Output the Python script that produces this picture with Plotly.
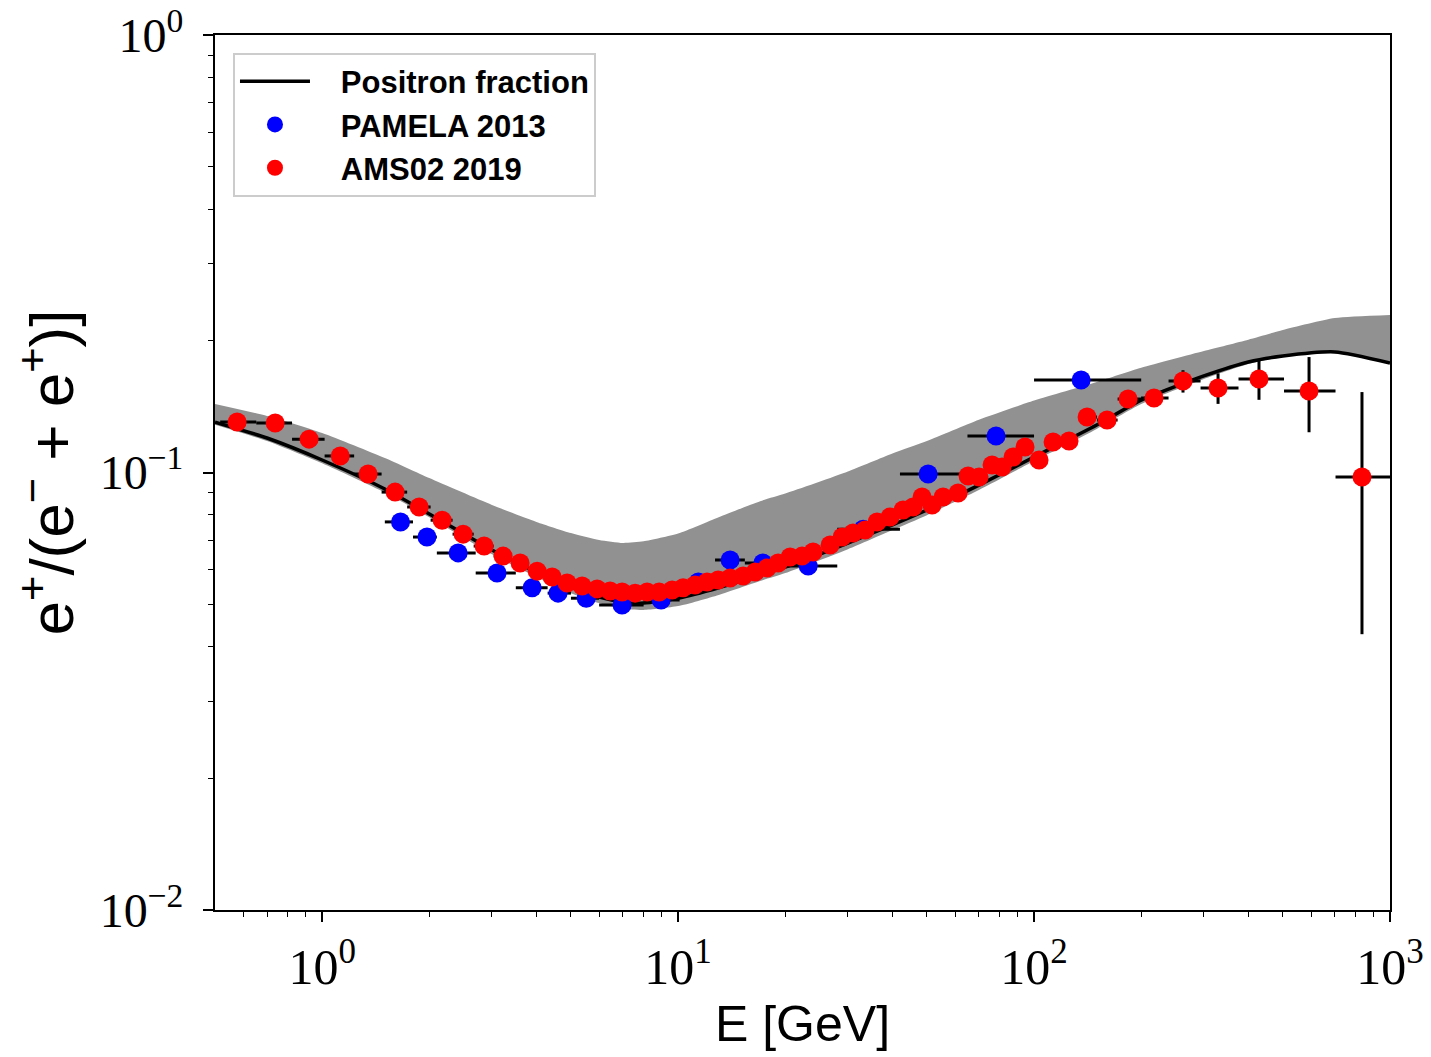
import plotly.graph_objects as go

# ---------------- model curve and band ----------------
model_E = [0.5, 0.7, 1, 1.5, 2, 3, 4, 5, 6, 7, 8, 10, 13, 17, 20, 30, 40, 50, 70,
           100, 150, 200, 300, 400, 500, 700, 1000]
model_frac = [0.1304, 0.1199, 0.1068, 0.0917, 0.0804, 0.0665, 0.0592, 0.0547, 0.0519,
              0.0506, 0.0503, 0.0516, 0.0545, 0.0583, 0.0608, 0.0690, 0.0759, 0.0821,
              0.0936, 0.1085, 0.1284, 0.1464, 0.1662, 0.1789, 0.1846, 0.1886, 0.1780]
band_low = [0.1285, 0.1180, 0.1050, 0.0900, 0.0790, 0.0650, 0.0577, 0.0530, 0.0503,
            0.0488, 0.0485, 0.0495, 0.0525, 0.0565, 0.0589, 0.0668, 0.0739, 0.0799,
            0.0912, 0.1062, 0.1258, 0.1434, 0.1636, 0.1770, 0.1837, 0.1875, 0.1790]
band_high = [0.1434, 0.1346, 0.1231, 0.1079, 0.0971, 0.0843, 0.0771, 0.0727, 0.0701,
             0.0690, 0.0696, 0.0725, 0.0790, 0.0860, 0.0895, 0.1005, 0.1105, 0.1180,
             0.1320, 0.1460, 0.1610, 0.1735, 0.1895, 0.2012, 0.2117, 0.2254, 0.2291]

# ---------------- PAMELA 2013 ----------------
pamela_E = [1.66, 1.97, 2.41, 3.10, 3.89, 4.60, 5.52, 6.96, 8.96, 11.4, 14.0, 17.3,
            23.2, 33.1, 50.4, 78.2, 135.6]
pamela_frac = [0.0771, 0.0712, 0.0655, 0.0589, 0.0545, 0.0530, 0.0516, 0.0498, 0.0511,
               0.0562, 0.0631, 0.0621, 0.0611, 0.0742, 0.0992, 0.1212, 0.1627]
pamela_edges = [1.5, 1.8, 2.1, 2.7, 3.5, 4.3, 5.0, 6.0, 8.0, 10.1, 12.7, 15.4, 19.3,
                28, 42, 65, 100, 200]

# ---------------- AMS02 2019 ----------------
ams_E = [0.577, 0.738, 0.919, 1.124, 1.346, 1.603, 1.873, 2.173, 2.489, 2.851,
         3.224, 3.599, 4.018, 4.428, 4.878, 5.375, 5.923, 6.442, 6.962, 7.572,
         8.184, 8.844, 9.619, 10.33, 11.16, 12.06, 12.96, 14.00, 15.23, 16.46,
         17.78, 19.10, 20.64, 22.30, 23.94, 26.73, 28.89, 31.01, 33.52, 36.22,
         39.39, 42.85, 45.72, 48.46, 51.70, 55.52, 61.17, 65.25, 70.06, 76.21,
         81.31, 87.30, 94.34, 103.3, 113.1, 125.4, 140.9, 160.4, 183.7, 217.3,
         262.1, 328.8, 428.5, 592.3, 834.2]
ams_frac = [0.1304, 0.1297, 0.1192, 0.1091, 0.0992, 0.0902, 0.0834, 0.0778, 0.0723, 0.0679,
            0.0644, 0.0621, 0.0595, 0.0577, 0.0559, 0.0550, 0.0542, 0.0536, 0.0533, 0.0530,
            0.0533, 0.0533, 0.0539, 0.0545, 0.0553, 0.0562, 0.0568, 0.0574, 0.0580, 0.0592,
            0.0605, 0.0621, 0.0641, 0.0644, 0.0658, 0.0683, 0.0712, 0.0727, 0.0739, 0.0771,
            0.0791, 0.0821, 0.0834, 0.0879, 0.0843, 0.0879, 0.0898, 0.0982, 0.0977, 0.1040,
            0.1029, 0.1085, 0.1144, 0.1068, 0.1174, 0.1180, 0.1339, 0.1318, 0.1472, 0.1480,
            0.1618, 0.1560, 0.1636, 0.1536, 0.0977]
ams_err = [0.0015, 0.0015, 0.0015, 0.0015, 0.0015, 0.0015, 0.0015, 0.0015, 0.0015, 0.0015,
           0.0015, 0.0015, 0.0015, 0.0015, 0.0015, 0.0015, 0.0015, 0.0015, 0.0015, 0.0015,
           0.0015, 0.0015, 0.0015, 0.0015, 0.0015, 0.0015, 0.0015, 0.0015, 0.0015, 0.0015,
           0.0015, 0.0015, 0.0015, 0.0015, 0.0015, 0.0015, 0.0015, 0.0015, 0.0015, 0.0015,
           0.002, 0.002, 0.002, 0.002, 0.002, 0.002, 0.002, 0.002, 0.0025, 0.0025,
           0.003, 0.003, 0.003, 0.003, 0.003, 0.0035, 0.004, 0.0045, 0.005, 0.006,
           0.0095, 0.0125, 0.017, 0.030, 0.055]
ams_edges = [0.517, 0.653, 0.823, 1.016, 1.230, 1.469, 1.733, 2.017, 2.325, 2.665,
             3.032, 3.406, 3.803, 4.217, 4.647, 5.121, 5.641, 6.175, 6.697, 7.261,
             7.873, 8.507, 9.224, 9.968, 10.74, 11.60, 12.50, 13.47, 14.60, 15.83,
             17.11, 18.43, 19.86, 21.46, 23.11, 25.30, 27.79, 29.94, 32.24, 34.85,
             37.78, 41.10, 44.27, 47.08, 50.06, 53.56, 58.28, 63.18, 67.62, 73.08,
             78.73, 84.24, 90.77, 98.72, 108.1, 119.1, 132.9, 150.3, 171.7, 199.8,
             238.7, 293.6, 375.3, 503.8, 703.0, 1000]

x_tickvals = [1, 10, 100, 1000]
x_ticktext = ["10<sup>0</sup>", "10<sup>1</sup>", "10<sup>2</sup>", "10<sup>3</sup>"]
y_tickvals = [0.01, 0.1, 1]
y_ticktext = ["10<sup>\u22122</sup>", "10<sup>\u22121</sup>", "10<sup>0</sup>"]
x_minor = [0.6, 0.7, 0.8, 0.9, 2, 3, 4, 5, 6, 7, 8, 9, 20, 30, 40, 50, 60, 70, 80, 90,
           200, 300, 400, 500, 600, 700, 800, 900]
y_minor = [0.02, 0.03, 0.04, 0.05, 0.06, 0.07, 0.08, 0.09,
           0.2, 0.3, 0.4, 0.5, 0.6, 0.7, 0.8, 0.9]


def plus_minus(centers, edges):
    lo = edges[:-1]
    hi = edges[1:]
    plus = [h - c for c, h in zip(centers, hi)]
    minus = [c - l for c, l in zip(centers, lo)]
    return plus, minus


pam_plus, pam_minus = plus_minus(pamela_E, pamela_edges)
ams_plus, ams_minus = plus_minus(ams_E, ams_edges)

BAND = "#919191"
PAD = "\u00a0\u00a0\u00a0"
fig = go.Figure()

fig.add_trace(go.Scatter(x=model_E, y=band_low, mode="lines",
                         line=dict(color=BAND, width=0, shape="spline", smoothing=0.6),
                         showlegend=False, hoverinfo="skip"))
fig.add_trace(go.Scatter(x=model_E, y=band_high, mode="lines", fill="tonexty",
                         fillcolor=BAND,
                         line=dict(color=BAND, width=0, shape="spline", smoothing=0.6),
                         showlegend=False, hoverinfo="skip"))
fig.add_trace(go.Scatter(x=model_E, y=model_frac, mode="lines",
                         name=PAD + "Positron fraction",
                         line=dict(color="black", width=3.5, shape="spline", smoothing=0.6)))
fig.add_trace(go.Scatter(x=pamela_E, y=pamela_frac, mode="markers",
                         name=PAD + "PAMELA 2013",
                         marker=dict(color="#0000ff", size=19, line=dict(width=0)),
                         error_x=dict(type="data", symmetric=False, array=pam_plus,
                                      arrayminus=pam_minus, color="black",
                                      thickness=3, width=0)))
fig.add_trace(go.Scatter(x=ams_E, y=ams_frac, mode="markers",
                         name=PAD + "AMS02 2019",
                         marker=dict(color="#ff0000", size=19, line=dict(width=0)),
                         error_x=dict(type="data", symmetric=False, array=ams_plus,
                                      arrayminus=ams_minus, color="black",
                                      thickness=3, width=0),
                         error_y=dict(type="data", array=ams_err, color="black",
                                      thickness=3, width=0)))

axis_common = dict(
    showline=True, linecolor="black", linewidth=2, mirror=True,
    ticks="outside", ticklen=10, tickwidth=1.5, tickcolor="black",
    showgrid=False, zeroline=False, tickmode="array",
    ticklabeloverflow="allow",
)

fig.update_xaxes(type="log", range=[-0.30103, 3],
                 tickvals=x_tickvals, ticktext=x_ticktext, ticklabelstandoff=2,
                 tickfont=dict(family="Liberation Serif", size=50, color="black"),
                 minor=dict(tickmode="array", tickvals=x_minor, ticks="outside",
                            ticklen=5, tickwidth=1.2, tickcolor="black", showgrid=False),
                 title=dict(text="E [GeV]", standoff=12,
                            font=dict(family="Liberation Sans", size=50, color="black")),
                 **axis_common)
fig.update_yaxes(type="log", range=[-2, 0],
                 tickvals=y_tickvals, ticktext=y_ticktext, ticklabelstandoff=10,
                 tickfont=dict(family="Liberation Serif", size=48, color="black"),
                 minor=dict(tickmode="array", tickvals=y_minor, ticks="outside",
                            ticklen=5, tickwidth=1.2, tickcolor="black", showgrid=False),
                 title=dict(text="e<sup>+</sup>/(e<sup>\u2212</sup> + e<sup>+</sup>)]", standoff=16,
                            font=dict(family="Liberation Sans", size=62, color="black")),
                 **axis_common)

fig.update_layout(
    width=1423, height=1049,
    margin=dict(l=207, r=41, t=27, b=147, autoexpand=False),
    plot_bgcolor="white", paper_bgcolor="white",
    legend=dict(x=0.0153, y=0.98, xanchor="left", yanchor="top",
                traceorder="normal",
                bgcolor="white", bordercolor="#cccccc", borderwidth=2,
                font=dict(family="Liberation Sans", size=31, color="black", weight="bold"),
                itemwidth=70, tracegroupgap=6),
    showlegend=True,
)

fig.write_html("out.html")
